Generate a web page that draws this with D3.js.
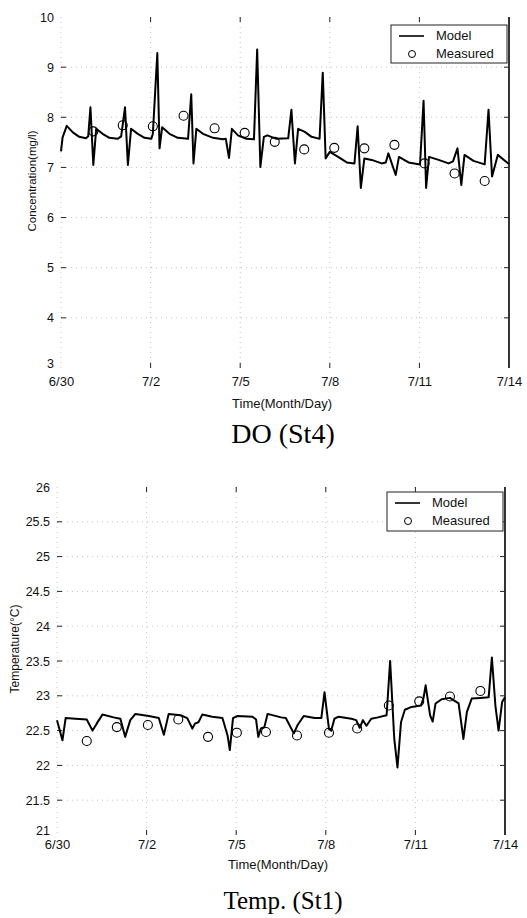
<!DOCTYPE html>
<html>
<head>
<meta charset="utf-8">
<script src="https://cdn.jsdelivr.net/npm/d3@7"></script>
<style>
  html, body { margin: 0; padding: 0; background: #fff; }
  svg { display: block; }
</style>
</head>
<body>
<svg id="chart" width="527" height="918"></svg>
<script>
// ---------- DATA ----------
const xTickLabels = ["6/30", "7/2", "7/5", "7/8", "7/11", "7/14"];
const xTickDays = [0, 2.8, 5.6, 8.4, 11.2, 14];

// DO (St4) - model (days since 6/30, mg/l)
const doModelDay = [0.0,0.05,0.18,0.37,0.57,0.78,0.85,0.92,1.01,1.10,1.30,1.51,1.77,1.88,2.00,2.09,2.19,2.40,2.61,2.82,2.87,3.01,3.08,3.16,3.39,3.65,3.97,4.07,4.14,4.23,4.44,4.75,5.06,5.15,5.25,5.34,5.53,5.79,6.03,6.13,6.23,6.34,6.45,6.73,7.10,7.20,7.31,7.41,7.62,7.83,8.08,8.18,8.27,8.40,8.66,8.93,9.17,9.27,9.37,9.48,9.71,10.02,10.15,10.23,10.46,10.56,10.86,11.22,11.33,11.41,11.50,11.80,12.11,12.25,12.39,12.51,12.61,12.89,13.24,13.36,13.47,13.65,13.88,14.0];
const doModelVal = [7.32,7.60,7.83,7.70,7.61,7.58,7.62,8.20,7.05,7.77,7.67,7.59,7.57,7.62,8.20,7.05,7.77,7.67,7.59,7.57,7.67,9.28,7.38,7.80,7.67,7.59,7.57,8.46,7.08,7.77,7.67,7.59,7.56,7.57,7.19,7.77,7.64,7.57,7.56,9.35,7.01,7.61,7.64,7.57,7.58,8.15,7.08,7.77,7.71,7.61,7.57,8.89,7.18,7.31,7.21,7.10,7.08,7.82,6.59,7.18,7.15,7.08,7.10,7.28,6.85,7.21,7.10,7.06,8.33,6.59,7.21,7.15,7.08,7.12,7.38,6.65,7.25,7.13,7.06,8.15,6.82,7.25,7.13,7.07];
// DO (St4) - measured
const doMeasDay = [1.01,1.93,2.87,3.83,4.80,5.74,6.68,7.60,8.54,9.48,10.42,11.36,12.30,13.24];
const doMeasVal = [7.72,7.84,7.82,8.03,7.78,7.69,7.51,7.36,7.39,7.38,7.45,7.08,6.88,6.73];
const doYTicks = [3, 4, 5, 6, 7, 8, 9, 10];

// Temp (St1) - model (days since 6/30, deg C)
const tempModelDay = [0.00,0.17,0.27,0.57,0.93,1.11,1.24,1.42,1.77,1.98,2.13,2.29,2.45,2.87,3.18,3.34,3.49,3.86,4.07,4.23,4.31,4.42,4.54,4.85,5.17,5.33,5.40,5.50,5.64,6.11,6.22,6.29,6.37,6.48,6.58,7.00,7.15,7.40,7.52,7.71,8.05,8.26,8.36,8.50,8.57,8.67,8.80,9.20,9.35,9.46,9.56,9.67,9.82,10.03,10.30,10.41,10.54,10.64,10.75,10.87,11.08,11.37,11.45,11.52,11.66,11.74,11.83,12.02,12.28,12.55,12.70,12.81,12.96,13.23,13.49,13.59,13.70,13.80,13.91,14.00];
const tempModelVal = [22.65,22.36,22.68,22.67,22.66,22.50,22.60,22.73,22.69,22.67,22.41,22.65,22.74,22.71,22.68,22.44,22.74,22.72,22.68,22.53,22.60,22.62,22.73,22.70,22.68,22.43,22.22,22.68,22.71,22.70,22.66,22.41,22.53,22.55,22.74,22.69,22.68,22.46,22.58,22.71,22.68,22.68,23.05,22.52,22.50,22.67,22.70,22.67,22.65,22.54,22.65,22.57,22.67,22.69,22.72,23.50,22.38,21.97,22.62,22.80,22.84,22.86,22.96,23.15,22.72,22.63,22.89,22.95,22.97,22.89,22.38,22.77,22.96,22.97,22.98,23.55,22.86,22.50,22.91,22.98];
// Temp (St1) - measured
const tempMeasDay = [0.93,1.87,2.84,3.79,4.72,5.62,6.53,7.50,8.50,9.38,10.37,11.32,12.28,13.23];
const tempMeasVal = [22.35,22.55,22.58,22.66,22.41,22.47,22.48,22.43,22.47,22.53,22.86,22.92,22.99,23.07];
const tempYTicks = [21, 21.5, 22, 22.5, 23, 23.5, 24, 24.5, 25, 25.5, 26];
const tempYTickLabels = ["21","21.5","22","22.5","23","23.5","24","24.5","25","25.5","26"];

// ---------- DRAW ----------
const svg = d3.select("#chart");
const SANS = "'Liberation Sans', Arial, sans-serif";
const SERIF = "'Liberation Serif', 'Times New Roman', serif";

function panel(cfg) {
  const x = d3.scaleLinear().domain([0, 14]).range([cfg.x0, cfg.x1]);
  const y = d3.scaleLinear().domain(cfg.yDomain).range([cfg.y1, cfg.y0]);
  const g = svg.append("g");

  // grid (dotted, faint)
  g.append("g").selectAll("line").data(xTickDays.slice(1, -1)).join("line")
    .attr("x1", d => x(d)).attr("x2", d => x(d))
    .attr("y1", cfg.y0).attr("y2", cfg.y1)
    .attr("stroke", "#b5b5b5").attr("stroke-width", 0.8).attr("stroke-dasharray", "1,4");
  g.append("g").selectAll("line").data(cfg.yTicks.slice(1, -1)).join("line")
    .attr("x1", cfg.x0).attr("x2", cfg.x1)
    .attr("y1", d => y(d)).attr("y2", d => y(d))
    .attr("stroke", "#b5b5b5").attr("stroke-width", 0.8).attr("stroke-dasharray", "1,4");

  // left spine faint dotted
  g.append("line").attr("x1", cfg.x0).attr("x2", cfg.x0).attr("y1", cfg.y0).attr("y2", cfg.y1)
    .attr("stroke", "#bbb").attr("stroke-width", 0.8).attr("stroke-dasharray", "1,4");
  // right spine solid
  g.append("line").attr("x1", cfg.x1).attr("x2", cfg.x1).attr("y1", cfg.y0).attr("y2", cfg.y1)
    .attr("stroke", "#000").attr("stroke-width", 1.6);

  // left axis (labels + inward ticks)
  const yAxisL = d3.axisLeft(y).tickValues(cfg.yTicks).tickSize(0).tickPadding(5)
    .tickFormat((d, i) => cfg.yTickLabels[i]);
  const gl = g.append("g").attr("transform", `translate(${cfg.x0 - 2},0)`).call(yAxisL);
  gl.select(".domain").remove();
  gl.selectAll("text").attr("font-family", SANS).attr("font-size", 12.5).attr("fill", "#111");
  // lowest label sits slightly raised above the x labels
  gl.selectAll(".tick").filter((d, i) => i === 0).select("text").attr("dy", "-0.05em");
  g.append("g").selectAll("line").data(cfg.yTicks.slice(1, -1)).join("line")
    .attr("x1", cfg.x0).attr("x2", cfg.x0 + 5).attr("y1", d => y(d)).attr("y2", d => y(d))
    .attr("stroke", "#222").attr("stroke-width", 1);
  // right inward ticks
  g.append("g").selectAll("line").data(cfg.yTicks.slice(1, -1)).join("line")
    .attr("x1", cfg.x1).attr("x2", cfg.x1 - 5).attr("y1", d => y(d)).attr("y2", d => y(d))
    .attr("stroke", "#222").attr("stroke-width", 1);

  // bottom axis labels
  const xAxis = d3.axisBottom(x).tickValues(xTickDays).tickSize(0).tickPadding(cfg.xPad)
    .tickFormat((d, i) => xTickLabels[i]);
  const gb = g.append("g").attr("transform", `translate(0,${cfg.y1})`).call(xAxis);
  gb.select(".domain").remove();
  gb.selectAll("text").attr("font-family", SANS).attr("font-size", 13).attr("fill", "#111");
  // bottom & top inward ticks
  g.append("g").selectAll("line").data(xTickDays.slice(1, -1)).join("line")
    .attr("x1", d => x(d)).attr("x2", d => x(d)).attr("y1", cfg.y1).attr("y2", cfg.y1 - 5)
    .attr("stroke", "#222").attr("stroke-width", 1);
  g.append("g").selectAll("line").data(xTickDays.slice(1, -1)).join("line")
    .attr("x1", d => x(d)).attr("x2", d => x(d)).attr("y1", cfg.y0).attr("y2", cfg.y0 + 5)
    .attr("stroke", "#222").attr("stroke-width", 1);

  // model line
  const pts = cfg.modelDay.map((d, i) => [d, cfg.modelVal[i]]);
  g.append("path").datum(pts)
    .attr("d", d3.line().x(d => x(d[0])).y(d => y(d[1])))
    .attr("fill", "none").attr("stroke", "#000").attr("stroke-width", 2)
    .attr("stroke-linejoin", "round");

  // measured circles
  g.append("g").selectAll("circle").data(cfg.measDay.map((d, i) => [d, cfg.measVal[i]])).join("circle")
    .attr("cx", d => x(d[0])).attr("cy", d => y(d[1])).attr("r", 4.5)
    .attr("fill", "none").attr("stroke", "#000").attr("stroke-width", 1.1);

  // axis titles
  g.append("text").attr("x", (cfg.x0 + cfg.x1) / 2 - 3).attr("y", cfg.xTitleY)
    .attr("text-anchor", "middle").attr("font-family", SANS).attr("font-size", 13).attr("fill", "#111")
    .text("Time(Month/Day)");
  g.append("text").attr("transform", `translate(${cfg.yTitleX},${cfg.yTitleCY}) rotate(-90)`)
    .attr("text-anchor", "middle").attr("font-family", SANS).attr("font-size", cfg.yTitleSize).attr("fill", "#111")
    .text(cfg.yTitle);

  // caption
  g.append("text").attr("x", 283).attr("y", cfg.capY).attr("text-anchor", "middle")
    .attr("font-family", SERIF).attr("font-size", cfg.capSize).attr("fill", "#000").text(cfg.caption);

  // legend
  const L = cfg.legend;
  const lg = g.append("g");
  lg.append("rect").attr("x", L.x).attr("y", L.y).attr("width", L.w).attr("height", L.h)
    .attr("fill", "#fff").attr("stroke", "#222").attr("stroke-width", 1);
  lg.append("line").attr("x1", L.x + 8).attr("x2", L.x + 33).attr("y1", L.y + 11).attr("y2", L.y + 11)
    .attr("stroke", "#000").attr("stroke-width", 1.6);
  lg.append("circle").attr("cx", L.x + 21).attr("cy", L.y + 29).attr("r", 3.5)
    .attr("fill", "none").attr("stroke", "#000").attr("stroke-width", 1);
  lg.append("text").attr("x", L.x + 45).attr("y", L.y + 15).attr("font-family", SANS).attr("font-size", 13)
    .attr("fill", "#111").text("Model");
  lg.append("text").attr("x", L.x + 45).attr("y", L.y + 33).attr("font-family", SANS).attr("font-size", 13)
    .attr("fill", "#111").text("Measured");
}

panel({
  x0: 61, x1: 509, y0: 17, y1: 368,
  yDomain: [3, 10], yTicks: doYTicks, yTickLabels: doYTicks.map(String),
  modelDay: doModelDay, modelVal: doModelVal, measDay: doMeasDay, measVal: doMeasVal,
  xPad: 9, xTitleY: 408, yTitle: "Concentration(mg/l)", yTitleX: 36, yTitleCY: 181, yTitleSize: 11.5,
  caption: "DO (St4)", capY: 443, capSize: 28,
  legend: { x: 391, y: 25, w: 116, h: 38 }
});

panel({
  x0: 57, x1: 505, y0: 487, y1: 835,
  yDomain: [21, 26], yTicks: tempYTicks, yTickLabels: tempYTickLabels,
  modelDay: tempModelDay, modelVal: tempModelVal, measDay: tempMeasDay, measVal: tempMeasVal,
  xPad: 5, xTitleY: 869, yTitle: "Temperature(°C)", yTitleX: 19, yTitleCY: 649, yTitleSize: 12,
  caption: "Temp. (St1)", capY: 909, capSize: 25,
  legend: { x: 387, y: 492, w: 116, h: 39 }
});
</script>
</body>
</html>
